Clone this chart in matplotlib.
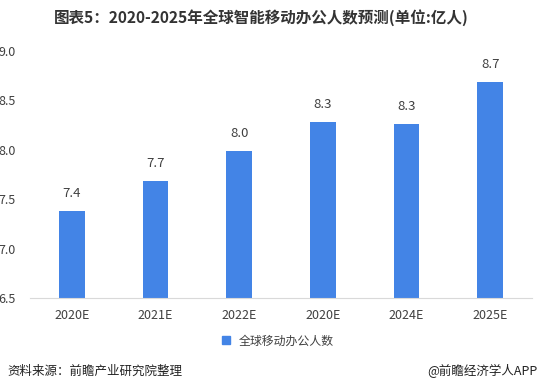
import matplotlib
matplotlib.use("Agg")
import matplotlib.pyplot as plt
from matplotlib.lines import Line2D

plt.rcParams['font.family'] = ['Noto Sans CJK SC', 'DejaVu Sans']

categories = ["2020E", "2021E", "2022E", "2020E", "2024E", "2025E"]
values = [7.38, 7.68, 7.99, 8.28, 8.26, 8.69]
value_labels = ["7.4", "7.7", "8.0", "8.3", "8.3", "8.7"]
yticks = [6.5, 7.0, 7.5, 8.0, 8.5, 9.0]

bar_color = "#4384E6"
text_color = "#404040"

fig = plt.figure(figsize=(5.41, 3.91), dpi=100)
ax = fig.add_axes([30 / 541, 1 - 298 / 391, 502 / 541, 247 / 391])

x = range(len(categories))
ax.bar(x, values, width=0.31, color=bar_color, zorder=2)
for xi, v, lab in zip(x, values, value_labels):
    ax.annotate(lab, (xi, v), xytext=(0, 8), textcoords="offset points",
                ha="center", va="bottom", fontsize=9.5, color=text_color)

ax.set_ylim(6.5, 9.0)
ax.set_xlim(-0.5, len(categories) - 0.5)
ax.set_yticks(yticks)
ax.set_yticklabels([f"{t:.1f}" for t in yticks])
ax.set_xticks(list(x))
ax.set_xticklabels(categories)
ax.tick_params(axis="both", length=0, labelsize=9, labelcolor=text_color)
ax.tick_params(axis="y", pad=10)
ax.tick_params(axis="x", pad=8)
for side in ["top", "right", "left"]:
    ax.spines[side].set_visible(False)
ax.spines["bottom"].set_color("#d9d9d9")

fig.text(0.483, 1 - 18 / 391, "图表5：2020-2025年全球智能移动办公人数预测(单位:亿人)",
         ha="center", va="center", fontsize=11.2, fontweight="bold", color="#333333")

handle = Line2D([], [], marker="s", linestyle="none", color=bar_color, markersize=5.5)
fig.legend([handle], ["全球移动办公人数"], loc="center", bbox_to_anchor=(0.507, 1 - 341 / 391),
           frameon=False, fontsize=8.6, handletextpad=0.05, labelcolor=text_color)

fig.text(7 / 541, 1 - 371 / 391, "资料来源：前瞻产业研究院整理", ha="left", va="center",
         fontsize=9, color="#222222")
fig.text(538 / 541, 1 - 371 / 391, "@前瞻经济学人APP", ha="right", va="center",
         fontsize=9, color="#222222")

fig.savefig("out.png", dpi=100)
